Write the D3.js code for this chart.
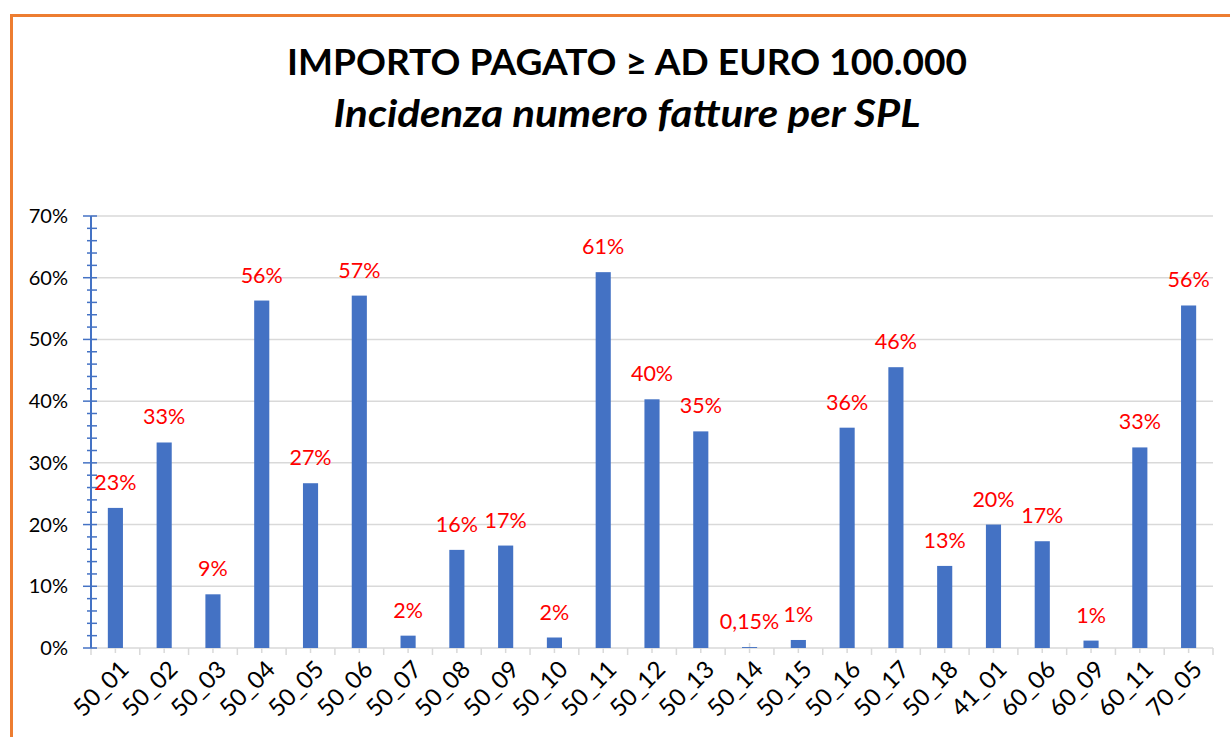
<!DOCTYPE html>
<html>
<head>
<meta charset="utf-8">
<script src="https://cdn.jsdelivr.net/npm/d3@7"></script>
<style>
  body { margin: 0; background: #fff; }
  svg { display: block; }
</style>
</head>
<body>
<svg width="1230" height="737"></svg>
<script>
// dati
const categories = ["50_01","50_02","50_03","50_04","50_05","50_06","50_07","50_08","50_09","50_10",
  "50_11","50_12","50_13","50_14","50_15","50_16","50_17","50_18","41_01","60_06","60_09","60_11","70_05"];
const values = [0.227, 0.333, 0.087, 0.563, 0.267, 0.571, 0.020, 0.159, 0.166, 0.017,
  0.609, 0.403, 0.351, 0.0015, 0.013, 0.357, 0.455, 0.133, 0.200, 0.173, 0.012, 0.325, 0.555];
const yTicks = [0, 0.1, 0.2, 0.3, 0.4, 0.5, 0.6, 0.7];
const title = "IMPORTO PAGATO \u2265 AD EURO 100.000";
const subtitle = "Incidenza numero fatture per SPL";

const data = categories.map((c, i) => ({ cat: c, value: values[i] }));

const it = d3.formatLocale({ decimal: ",", thousands: ".", grouping: [3], currency: ["", "\u20ac"] });
const pct0 = it.format(".0%"), pct2 = it.format(".2%");
const labelFmt = v => v < 0.005 ? pct2(v) : pct0(v);

let svg = d3.select("svg"),
    width = +svg.attr("width"),
    height = +svg.attr("height");

const font = "Lato, 'Open Sans', sans-serif";
const blue = "#4472C4";

// bordo arancione
svg.append("rect")
  .attr("x", 11.5).attr("y", 15.5)
  .attr("width", 1400).attr("height", 900)
  .attr("fill", "none")
  .attr("stroke", "#ED7D31")
  .attr("stroke-width", 3);

// titoli
svg.append("text")
  .attr("x", 627).attr("y", 75)
  .attr("text-anchor", "middle")
  .style("font-family", font)
  .style("font-weight", "bold")
  .style("font-size", "37px")
  .attr("textLength", 680)
  .attr("lengthAdjust", "spacingAndGlyphs")
  .text(title);

svg.append("text")
  .attr("x", 627).attr("y", 127)
  .attr("text-anchor", "middle")
  .style("font-family", font)
  .style("font-weight", "bold")
  .style("font-style", "italic")
  .style("font-size", "38px")
  .attr("textLength", 587)
  .attr("lengthAdjust", "spacingAndGlyphs")
  .text(subtitle);

const margin = { left: 91, right: 1213, top: 216, bottom: 648 };

let x = d3.scaleBand()
  .domain(categories)
  .range([margin.left, margin.right])
  .paddingInner(0.69)
  .paddingOuter(0.345);

let xb = d3.scaleBand().domain(categories).range([margin.left, margin.right]);

let y = d3.scaleLinear()
  .domain([0, 0.7])
  .range([margin.bottom, margin.top]);

// griglia
svg.append("g")
  .selectAll("line")
  .data(yTicks.slice(1))
  .enter().append("line")
  .attr("x1", margin.left).attr("x2", margin.right)
  .attr("y1", d => y(d)).attr("y2", d => y(d))
  .style("stroke", "#d9d9d9")
  .style("stroke-width", 1.5);

// asse x
let gx = svg.append("g").attr("transform", `translate(0,${margin.bottom})`);
gx.append("line")
  .attr("x1", margin.left).attr("x2", margin.right)
  .style("stroke", "#d9d9d9").style("stroke-width", 1.5);

let bounds = categories.map(c => xb(c)).concat([margin.right]);
gx.selectAll(".bt")
  .data(bounds)
  .enter().append("line")
  .attr("class", "bt")
  .attr("x1", d => d).attr("x2", d => d)
  .attr("y1", 0).attr("y2", 7)
  .style("stroke", "#d9d9d9").style("stroke-width", 1.5);

gx.selectAll(".ct")
  .data(categories)
  .enter().append("line")
  .attr("class", "ct")
  .attr("x1", d => xb(d) + xb.bandwidth() / 2)
  .attr("x2", d => xb(d) + xb.bandwidth() / 2)
  .attr("y1", -5).attr("y2", 5)
  .style("stroke", "#d9d9d9").style("stroke-width", 1.5);

gx.selectAll("text")
  .data(categories)
  .enter().append("text")
  .attr("transform", d => `translate(${xb(d) + xb.bandwidth() / 2 + 9},${17}) rotate(-45)`)
  .attr("text-anchor", "end")
  .attr("dy", "0.35em")
  .style("font-family", font)
  .style("font-size", "24px")
  .style("fill", "#000")
  .text(d => d);

// barre
svg.append("g")
  .selectAll("rect")
  .data(data)
  .enter().append("rect")
  .attr("x", d => x(d.cat))
  .attr("width", x.bandwidth())
  .attr("y", d => y(d.value))
  .attr("height", d => y(0) - y(d.value))
  .attr("fill", blue);

// etichette
svg.append("g")
  .selectAll("text")
  .data(data)
  .enter().append("text")
  .attr("x", d => x(d.cat) + x.bandwidth() / 2)
  .attr("y", d => y(d.value) - 18)
  .attr("text-anchor", "middle")
  .style("font-family", font)
  .style("font-size", "21.5px")
  .style("fill", "#FF0000")
  .text(d => labelFmt(d.value));

// asse y
let gy = svg.append("g");
let minor = d3.range(0, 0.7001, 0.02);
gy.selectAll(".mt")
  .data(minor)
  .enter().append("line")
  .attr("x1", d => Math.round(d * 100) % 10 === 0 ? margin.left - 8 : margin.left - 4)
  .attr("x2", margin.left + 6)
  .attr("y1", d => y(d)).attr("y2", d => y(d))
  .style("stroke", blue).style("stroke-width", 1.5);
gy.append("line")
  .attr("x1", margin.left).attr("x2", margin.left)
  .attr("y1", margin.top).attr("y2", margin.bottom)
  .style("stroke", blue).style("stroke-width", 2);

gy.selectAll("text")
  .data(yTicks)
  .enter().append("text")
  .attr("x", 68)
  .attr("y", d => y(d))
  .attr("dy", "0.35em")
  .attr("text-anchor", "end")
  .style("font-family", font)
  .style("font-size", "20px")
  .style("fill", "#000")
  .text(d => pct0(d));
</script>
</body>
</html>
